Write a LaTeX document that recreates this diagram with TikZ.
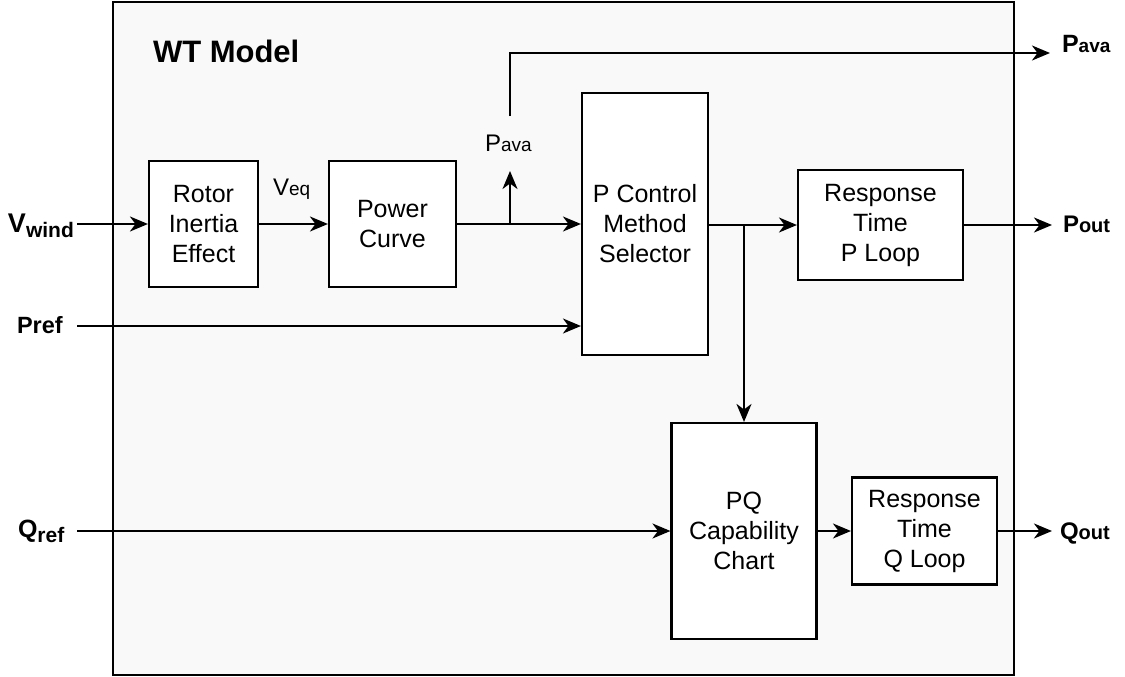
\documentclass[tikz,border=0pt]{standalone}
\usepackage{fontspec}
\setmainfont{Liberation Sans}
\usetikzlibrary{arrows.meta}

\newcommand{\boxfont}{\fontsize{25}{30}\selectfont}
\newcommand{\lblfont}{\fontsize{24}{28}\selectfont}
\newcommand{\smlfont}{\fontsize{19}{22}\selectfont}

\tikzset{
  wire/.style={line width=2.1pt, draw=black},
  arr/.style={wire, -{Stealth[length=18pt,width=15pt,inset=5.5pt]}},
  block/.style={draw=black, line width=2.1pt, fill=white, rectangle,
    align=center, inner sep=0pt, font=\boxfont},
  tag/.style={anchor=base west, inner sep=0pt, outer sep=0pt},
}

\begin{document}
\begin{tikzpicture}[x=1pt, y=-1pt]
  \useasboundingbox (0,0) rectangle (1125,677);

  % enclosing model frame
  \draw[line width=2.1pt, fill=black!2.5] (113,2) rectangle (1014,675);
  \node[tag, font=\bfseries\fontsize{31}{36}\selectfont] (title) at (153,63) {WT Model};

  % processing blocks
  \node[block, minimum width=109pt, minimum height=126pt] (rotor) at (203.5,224) {Rotor\\Inertia\\Effect};
  \node[block, minimum width=127pt, minimum height=126pt] (power) at (392.5,224) {Power\\Curve};
  \node[block, minimum width=126pt, minimum height=262pt] (pcms) at (645,224) {P Control\\Method\\Selector};
  \node[block, minimum width=165pt, minimum height=110pt] (rtp) at (880.5,225) {Response\\Time\\P Loop};
  \node[block, minimum width=145pt, minimum height=216pt] (pq) at (744,531) {PQ\\Capability\\Chart};
  \node[block, minimum width=145pt, minimum height=107pt] (rtq) at (924.5,531) {Response\\Time\\Q Loop};

  % external signal labels
  \node[tag, font=\bfseries] (vwind) at (8,232) {\fontsize{27}{30}\selectfont V\raisebox{-5pt}{\fontsize{21}{24}\selectfont wind}};
  \node[tag, font=\bfseries] (pref) at (17,333) {\fontsize{23.5}{28}\selectfont Pref};
  \node[tag, font=\bfseries] (qref) at (18,537) {\fontsize{25}{28}\selectfont Q\raisebox{-5pt}{\fontsize{21}{24}\selectfont ref}};
  \node[tag, font=\bfseries] (pavaout) at (1062,53) {\fontsize{25}{28}\selectfont P\smlfont ava};
  \node[tag, font=\bfseries] (pout) at (1063,232) {\lblfont P\fontsize{20}{22}\selectfont out};
  \node[tag, font=\bfseries] (qout) at (1060,539) {\lblfont Q\fontsize{20}{22}\selectfont out};

  % internal signal labels
  \node[tag] (veq) at (273,195) {\lblfont V\smlfont eq};
  \node[tag] (pava) at (485,151) {\lblfont P\smlfont ava};

  % connector end points
  \coordinate (vin) at (77,224);
  \coordinate (prefin) at (77,326);
  \coordinate (qrefin) at (77,531);
  \coordinate (psplit) at (510,224);
  \coordinate (ptip) at (510,171);
  \coordinate (pstart) at (510,116);
  \coordinate (pcorner) at (510,53);
  \coordinate (pend) at (1050,53);
  \coordinate (qsplit) at (744,225);
  \coordinate (poutend) at (1052,225);
  \coordinate (qoutend) at (1052,531);

  % signal flow
  \draw[arr] (vin) -- (rotor.west);
  \draw[arr] (rotor.east) -- (power.west);
  \draw[arr] (power.east) -- (pcms.west);
  \draw[arr] (psplit) -- (ptip);
  \draw[arr] (pstart) -- (pcorner) -- (pend);
  \draw[arr] (prefin) -- (prefin -| pcms.west);
  \draw[arr] (pcms.east |- rtp.west) -- (rtp.west);
  \draw[arr] (qsplit) -- (pq.north);
  \draw[arr] (rtp.east) -- (poutend);
  \draw[arr] (qrefin) -- (pq.west);
  \draw[arr] (pq.east |- rtq.west) -- (rtq.west);
  \draw[arr] (rtq.east) -- (qoutend);
\end{tikzpicture}
\end{document}
